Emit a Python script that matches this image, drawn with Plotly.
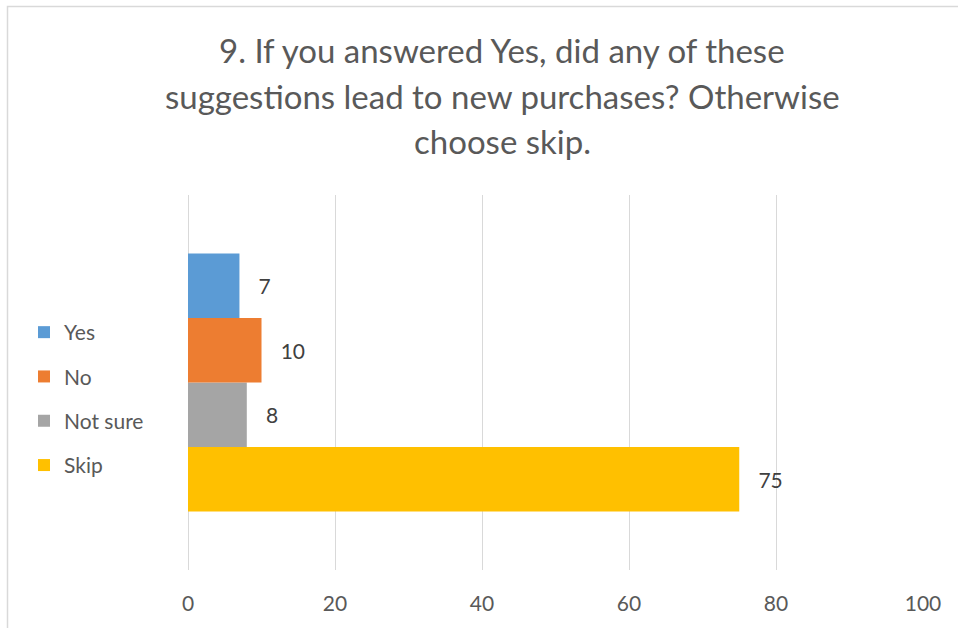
import plotly.graph_objects as go

# Survey answers for question 9
answers = ["Yes", "No", "Not sure", "Skip"]
counts = [7, 10, 8, 75]
colors = ["#5B9BD5", "#ED7D31", "#A5A5A5", "#FFC000"]
x_ticks = [0, 20, 40, 60, 80, 100]

title_lines = [
    "9. If you answered Yes, did any of these",
    "suggestions lead to new purchases? Otherwise",
    "choose skip.",
]

FONT = "Lato"
TEXT_GREY = "#595959"
GRID = "#D9D9D9"

# plot area in pixels, used to place the title lines and the frame
PLOT_TOP, PLOT_BOTTOM = 195, 570
PLOT_LEFT, PLOT_RIGHT = 188, 923


def paper_y(py):
    return (PLOT_BOTTOM - py) / (PLOT_BOTTOM - PLOT_TOP)


def paper_x(px):
    return (px - PLOT_LEFT) / (PLOT_RIGHT - PLOT_LEFT)


fig = go.Figure()

# Horizontal grouped bars stack upward from the first trace, so add them
# bottom-up; legendrank keeps "Yes" first in the legend.
series = list(enumerate(zip(answers, counts, colors), start=1))
for rank, (name, value, color) in reversed(series):
    fig.add_trace(
        go.Bar(
            name=name,
            legendgroup=name,
            legendrank=rank,
            x=[value],
            y=[""],
            orientation="h",
            marker=dict(color=color, line=dict(width=0)),
            text=[value],
            texttemplate="   %{text}",
            textposition="outside",
            textfont=dict(family=FONT, size=21, color="#404040"),
            cliponaxis=False,
            hoverinfo="x+name",
        )
    )

# three-line chart title, one annotation per line for Excel-like spacing
title_centres = [50, 96, 141]
annotations = [
    dict(
        text=line,
        xref="paper",
        yref="paper",
        x=paper_x(502),
        y=paper_y(cy),
        xanchor="center",
        yanchor="middle",
        showarrow=False,
        font=dict(family=FONT, size=33, color=TEXT_GREY),
    )
    for line, cy in zip(title_lines, title_centres)
]

fig.update_layout(
    width=958,
    height=628,
    paper_bgcolor="white",
    plot_bgcolor="white",
    margin=dict(l=PLOT_LEFT, r=958 - PLOT_RIGHT, t=PLOT_TOP, b=628 - PLOT_BOTTOM),
    barmode="group",
    bargap=0.312,
    bargroupgap=0,
    annotations=annotations,
    legend=dict(
        traceorder="grouped",
        font=dict(family=FONT, size=21, color=TEXT_GREY),
        x=paper_x(24),
        xanchor="left",
        y=paper_y(399),
        yanchor="middle",
        tracegroupgap=14,
        itemwidth=30,
        bgcolor="rgba(0,0,0,0)",
    ),
    xaxis=dict(
        range=[0, 100],
        tickvals=x_ticks,
        showgrid=True,
        gridcolor=GRID,
        gridwidth=1,
        zeroline=True,
        zerolinecolor=GRID,
        zerolinewidth=1,
        showline=False,
        ticks="outside",
        ticklen=15,
        tickcolor="rgba(0,0,0,0)",
        tickfont=dict(family=FONT, size=21, color=TEXT_GREY),
        fixedrange=True,
    ),
    yaxis=dict(
        showticklabels=False,
        showgrid=False,
        zeroline=False,
        showline=False,
        fixedrange=True,
    ),
    shapes=[
        # chart frame (top and left edges fall inside the window)
        dict(
            type="rect",
            xref="paper",
            yref="paper",
            x0=paper_x(7.5),
            x1=paper_x(975),
            y0=paper_y(650),
            y1=paper_y(6.5),
            line=dict(color=GRID, width=1.5),
            fillcolor="rgba(0,0,0,0)",
            layer="below",
        )
    ],
)

fig.write_html("out.html")
